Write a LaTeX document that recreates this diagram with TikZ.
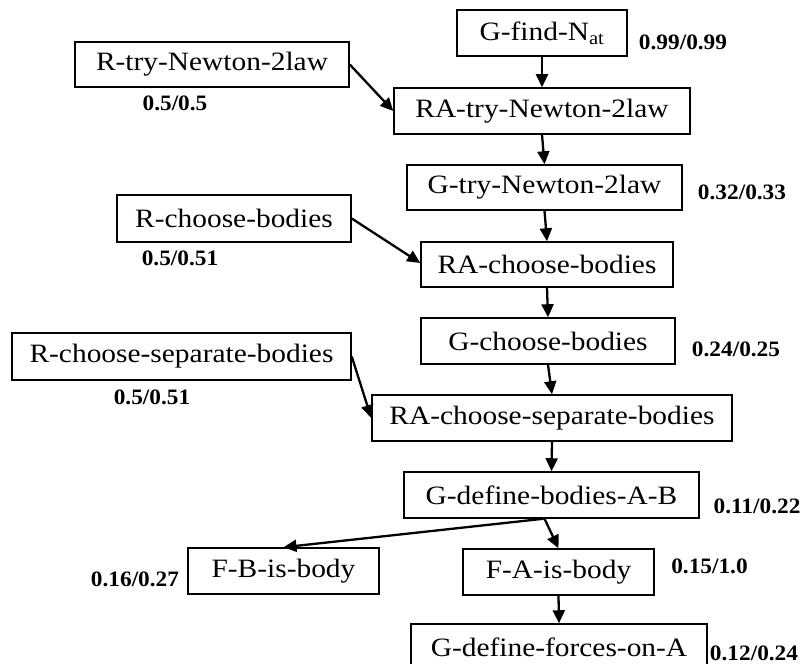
\documentclass[tikz,border=0pt]{standalone}
\usepackage{fontspec}
\setmainfont{Liberation Serif}[FakeStretch=1.11]
\newfontfamily\probfont{Liberation Serif}[FakeStretch=1.06]
\usetikzlibrary{arrows.meta,calc}
\begin{document}
\begin{tikzpicture}[x=1bp,y=-1bp,
  box/.style={draw=black, line width=1.5bp, inner sep=0pt,
    font=\fontsize{26.5bp}{30bp}\selectfont},
  lab/.style={inner sep=0pt, font=\probfont\fontsize{22bp}{25bp}\selectfont\bfseries},
  link/.style={line width=2.3bp, -{Triangle[length=13bp,width=12bp]}}]
\fill[white] (0,0) rectangle (803,664);
\useasboundingbox (0,0) rectangle (803,664);

% main chain of goals and rule applications
\node[box, minimum width=170bp, minimum height=46bp] (gfind) at (542,33) {G-find-N\textsubscript{at}};
\node[box, minimum width=296bp, minimum height=46bp] (ratry) at (542,111) {RA-try-Newton-2law};
\node[box, minimum width=275bp, minimum height=45bp] (gtry) at (544.5,187.5) {G-try-Newton-2law};
\node[box, minimum width=252bp, minimum height=45bp] (racb) at (547,264.5) {RA-choose-bodies};
\node[box, minimum width=254bp, minimum height=46bp] (gcb) at (548,341) {G-choose-bodies};
\node[box, minimum width=360bp, minimum height=46bp] (rasep) at (552,418) {RA-choose-separate-bodies};
\node[box, minimum width=295bp, minimum height=46bp] (gdef) at (551.5,495) {G-define-bodies-A-B};
\node[box, minimum width=191bp, minimum height=46bp] (fb) at (283.5,571) {F-B-is-body};
\node[box, minimum width=191bp, minimum height=46bp] (fa) at (558.5,572) {F-A-is-body};
\node[box, minimum width=296bp, minimum height=46bp] (gforce) at (559,647) {G-define-forces-on-A};

% rules feeding the rule applications
\node[box, minimum width=274bp, minimum height=45bp] (rtry) at (212,64.5) {R-try-Newton-2law};
\node[box, minimum width=234bp, minimum height=47bp] (rcb) at (234,218.5) {R-choose-bodies};
\node[box, minimum width=339bp, minimum height=47bp] (rsep) at (181.5,356.5) {R-choose-separate-bodies};

% probabilities
\node[lab] (pgfind) at (683,42) {0.99/0.99};
\node[lab] (prtry) at (175,103) {0.5/0.5};
\node[lab] (pgtry) at (742,192) {0.32/0.33};
\node[lab] (prcb) at (180,258) {0.5/0.51};
\node[lab] (pgcb) at (736,349) {0.24/0.25};
\node[lab] (prsep) at (152,397) {0.5/0.51};
\node[lab] (pgdef) at (757,506) {0.11/0.22};
\node[lab] (pfb) at (135,579) {0.16/0.27};
\node[lab] (pfa) at (709.5,566) {0.15/1.0};
\node[lab] (pgforce) at (754,653) {0.12/0.24};

% connectors
\draw[link] (gfind.south) -- (ratry.north);
\draw[link] (rtry.east) -- (ratry.west);
\draw[link] (ratry.south) -- (gtry.north);
\draw[link] (gtry.south) -- (racb.north);
\draw[link] (rcb.east) -- ([yshift=1.5bp]racb.west);
\draw[link] (racb.south) -- (gcb.north);
\draw[link] (gcb.south) -- (rasep.north);
\draw[link] (rsep.east) -- (rasep.west);
\draw[link] (rasep.south) -- (gdef.north);
\draw[link] ([xshift=-8bp]gdef.south) -- (fb.north);
\draw[link] ([xshift=-7bp]gdef.south) -- (fa.north);
\draw[link] (fa.south) -- (gforce.north);
\end{tikzpicture}
\end{document}
